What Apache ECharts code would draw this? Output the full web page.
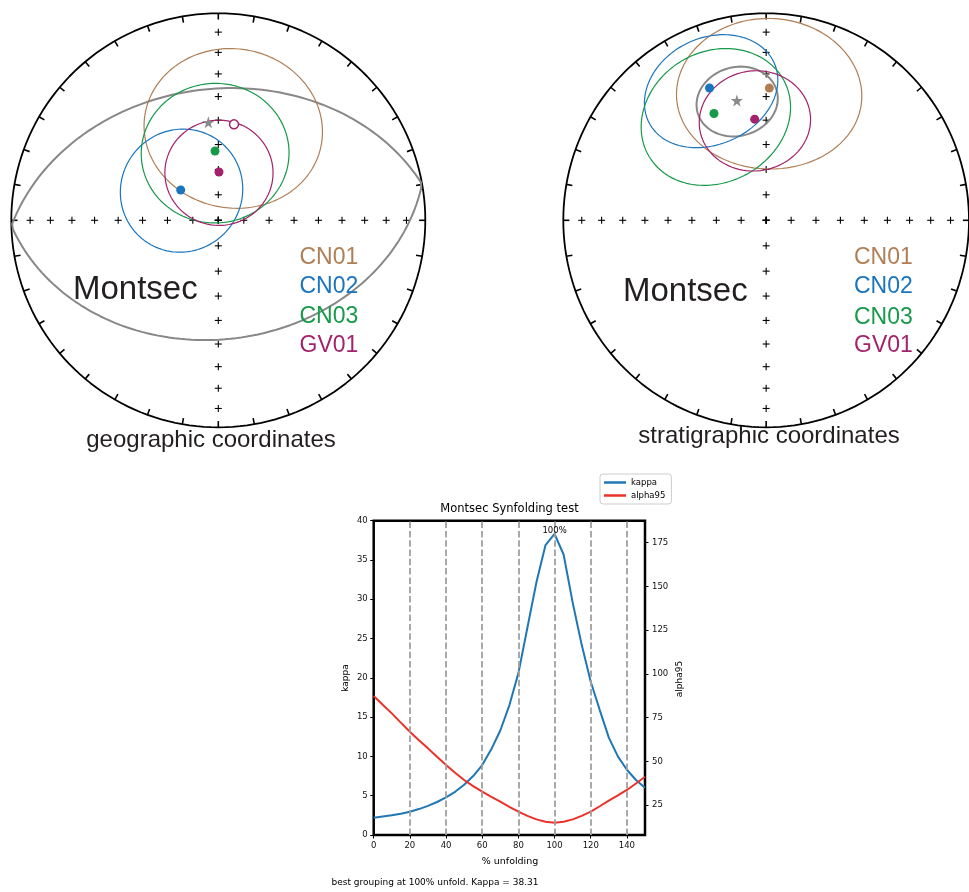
<!DOCTYPE html>
<html>
<head>
<meta charset="utf-8">
<script src="https://cdn.jsdelivr.net/npm/echarts@6/dist/echarts.min.js"></script>
<style>
html, body { margin: 0; padding: 0; background: #fff; }
#main { width: 969px; height: 892px; }
</style>
</head>
<body>
<div id="main"></div>
<script>
var siteNames = ['CN01', 'CN02', 'CN03', 'GV01'];
var siteColors = ['#b07e55', '#1a75bf', '#17994a', '#a3226b'];
var geoDec = [9.3, 308.9, 357.3, 0.8];
var geoInc = [-51.2, 71.0, 62.6, 71.0];   // negative = upper hemisphere
var stratDec = [1.4, 336.4, 333.5, 353.4];
var stratInc = [36.3, 30.9, 41.9, 49.3];
var siteA95 = [33.5, 24.2, 28.4, 21.0];
var geoMean = [354.2, 50.7];
var stratMean = [346.0, 40.1];
var upperColor = '#a3226b';

// net grid: inclination crosses and azimuth ticks
var crossIncs = [10, 20, 30, 40, 50, 60, 70, 80, 90];
var crossAz = [0, 90, 180, 270];
var tickAz = [0, 10, 20, 30, 40, 50, 60, 70, 80, 90, 100, 110, 120, 130, 140, 150, 160, 170,
  180, 190, 200, 210, 220, 230, 240, 250, 260, 270, 280, 290, 300, 310, 320, 330, 340, 350];

// synfolding test
var unfold = [0, 5, 10, 15, 20, 25, 30, 35, 40, 45, 50, 55, 60, 65, 70, 75, 80, 85, 90, 95,
  100, 105, 110, 115, 120, 125, 130, 135, 140, 145, 150];
var kappa = [2.2, 2.35, 2.5, 2.7, 2.95, 3.3, 3.7, 4.2, 4.8, 5.5, 6.4, 7.5, 8.9, 10.9, 13.3, 16.5,
  20.6, 26.4, 32.2, 36.9, 38.31, 35.7, 29.6, 24.2, 19.5, 15.9, 12.4, 10.0, 8.3, 7.0, 6.0];
var alpha95 = [87.3, 82.3, 77.4, 72.1, 66.9, 62.0, 57.4, 52.6, 47.9, 43.5, 39.3, 35.8, 32.6, 29.6,
  26.9, 24.0, 21.2, 18.8, 16.8, 15.4, 14.9, 15.4, 16.8, 18.8, 21.2, 24.3, 27.5, 30.5, 33.6, 37.3, 41.2];
var xTicks = [0, 20, 40, 60, 80, 100, 120, 140];
var dashX = [20, 40, 60, 80, 100, 120, 140];
var rightTicks = [25, 50, 75, 100, 125, 150, 175];

var DEG = Math.PI / 180;
var STAR = 'path://M50,0L61.8,35.1L98.9,35.4L69.1,57.5L80.3,92.9L50,71.3L19.7,92.9L30.9,57.5L1.1,35.4L38.2,35.1Z';

// equal-area (Schmidt) projection, unit primitive
function proj(dec, inc) {
  var r = Math.sqrt(1 - Math.sin(Math.abs(inc) * DEG));
  return [r * Math.sin(dec * DEG), r * Math.cos(dec * DEG)];
}

// cone of confidence around a direction, folded into the lower hemisphere
function smallCircle(dec, inc, a) {
  var D = dec * DEG, I = inc * DEG, A = a * DEG;
  var c = [Math.cos(I) * Math.cos(D), Math.cos(I) * Math.sin(D), Math.sin(I)];
  var u = [Math.sin(I) * Math.cos(D), Math.sin(I) * Math.sin(D), -Math.cos(I)];
  var v = [-Math.sin(D), Math.cos(D), 0];
  var out = [];
  for (var t = 0; t <= 360; t += 2) {
    var ct = Math.cos(t * DEG), st = Math.sin(t * DEG);
    var p = [0, 1, 2].map(function (k) {
      return Math.cos(A) * c[k] + Math.sin(A) * (ct * u[k] + st * v[k]);
    });
    var pi = Math.asin(Math.max(-1, Math.min(1, p[2]))) / DEG;
    var pd = Math.atan2(p[1], p[0]) / DEG;
    out.push(proj(pd, pi));
  }
  return out;
}

var chart = echarts.init(document.getElementById('main'));

var nets = [
  { dec: geoDec, inc: geoInc, mean: geoMean, a95: alpha95[0] },
  { dec: stratDec, inc: stratInc, mean: stratMean, a95: alpha95[20] }
];

var series = [];
var primitive = [];
for (var d = 0; d <= 360; d += 2) primitive.push(proj(d, 0));
var crossPts = [];
crossAz.forEach(function (az) {
  crossIncs.forEach(function (i) { crossPts.push(proj(az, i)); });
});

nets.forEach(function (net, k) {
  var ax = { xAxisIndex: k, yAxisIndex: k };
  series.push(Object.assign({
    type: 'line', data: primitive, symbol: 'none', clip: false, silent: true, z: 5,
    lineStyle: { color: '#000', width: 1.8 }
  }, ax));
  series.push(Object.assign({
    type: 'custom', silent: true, z: 5,
    data: tickAz.map(function (a) { return proj(a, 0); }),
    renderItem: function (params, api) {
      var x = api.value(0), y = api.value(1);
      var p1 = api.coord([x, y]), p2 = api.coord([x * 0.97, y * 0.97]);
      return { type: 'line', shape: { x1: p1[0], y1: p1[1], x2: p2[0], y2: p2[1] },
        style: { stroke: '#000', lineWidth: 1.6 } };
    }
  }, ax));
  series.push(Object.assign({
    type: 'custom', silent: true, z: 4,
    data: crossPts,
    renderItem: function (params, api) {
      var p = api.coord([api.value(0), api.value(1)]);
      var s = 3.5, st = { stroke: '#000', lineWidth: 1.1 };
      return { type: 'group', children: [
        { type: 'line', shape: { x1: p[0] - s, y1: p[1], x2: p[0] + s, y2: p[1] }, style: st },
        { type: 'line', shape: { x1: p[0], y1: p[1] - s, x2: p[0], y2: p[1] + s }, style: st }
      ] };
    }
  }, ax));
  series.push(Object.assign({
    type: 'line', data: smallCircle(net.mean[0], net.mean[1], net.a95), symbol: 'none',
    clip: false, silent: true, z: 6, lineStyle: { color: '#888888', width: 2 }
  }, ax));
  siteNames.forEach(function (nm, i) {
    series.push(Object.assign({
      type: 'line', data: smallCircle(net.dec[i], net.inc[i], siteA95[i]), symbol: 'none',
      clip: false, silent: true, z: 7, lineStyle: { color: siteColors[i], width: 1.2 }
    }, ax));
  });
  series.push(Object.assign({
    type: 'scatter', silent: true, z: 10, symbolSize: 9,
    data: siteNames.map(function (nm, i) {
      var up = net.inc[i] < 0;
      return {
        value: proj(net.dec[i], net.inc[i]),
        itemStyle: up ? { color: '#fff', borderColor: upperColor, borderWidth: 1.5, opacity: 1 }
                      : { color: siteColors[i], opacity: 1 }
      };
    })
  }, ax));
  series.push(Object.assign({
    type: 'scatter', silent: true, z: 10, symbol: STAR, symbolSize: 12,
    itemStyle: { color: '#8a8a8a', opacity: 1 },
    data: [proj(net.mean[0], net.mean[1])]
  }, ax));
});

var FONT = 'DejaVu Sans';
series.push({
  name: 'kappa', type: 'line', xAxisIndex: 2, yAxisIndex: 2, symbol: 'none', z: 4,
  data: unfold.map(function (u, i) { return [u, kappa[i]]; }),
  lineStyle: { color: '#1f77b4', width: 2 }, itemStyle: { color: '#1f77b4' },
  markLine: {
    silent: true, symbol: ['none', 'none'], label: { show: false },
    lineStyle: { color: '#a0a0a0', width: 1.8, type: [6.5, 2.8] },
    data: dashX.map(function (x) { return { xAxis: x }; })
  },
  markPoint: {
    silent: true,
    data: [{ coord: [100, 38.31], symbol: 'circle', symbolSize: 0.1,
      label: { show: true, position: 'top', distance: -1, formatter: '100%',
        fontFamily: FONT, fontSize: 8.5, color: '#000' } }]
  }
});
series.push({
  name: 'alpha95', type: 'line', xAxisIndex: 2, yAxisIndex: 3, symbol: 'none', z: 4,
  data: unfold.map(function (u, i) { return [u, alpha95[i]]; }),
  lineStyle: { color: '#eb3228', width: 2 }, itemStyle: { color: '#eb3228' }
});

function hiddenAxis(i) {
  return { gridIndex: i, type: 'value', min: -1, max: 1, show: false };
}
var labelStyle = { fontFamily: FONT, fontSize: 8.5, color: '#111' };
var tickStyle = { show: true, length: 3.5, lineStyle: { color: '#000', width: 1 } };

var texts = [];
function txt(s, x, y, size, color, align, family, rot) {
  texts.push({
    type: 'text', x: x, y: y, rotation: rot || 0, silent: true, z: 20,
    style: { text: s, fill: color, font: size + 'px "' + family + '"',
      textAlign: align, textVerticalAlign: 'middle' }
  });
}
var SANS = 'Liberation Sans', DARK = '#231f20';
txt('Montsec', 73, 290.3, 33, DARK, 'left', SANS);
txt('Montsec', 623, 291.9, 33, DARK, 'left', SANS);
var labY = [[257.3, 286.7, 316.7, 345.7], [257.3, 286.7, 317.3, 345.7]];
siteNames.forEach(function (nm, i) {
  txt(nm, 299.5, labY[0][i], 23, siteColors[i], 'left', SANS);
  txt(nm, 854, labY[1][i], 23, siteColors[i], 'left', SANS);
});
txt('geographic coordinates', 211, 440.7, 24, DARK, 'center', SANS);
txt('stratigraphic coordinates', 769, 436.4, 24, DARK, 'center', SANS);
txt('Montsec Synfolding test', 509.5, 509.5, 11.5, '#000', 'center', FONT);
txt('% unfolding', 510, 861.5, 9.5, '#000', 'center', FONT);
txt('kappa', 346, 678, 9, '#000', 'center', FONT, Math.PI / 2);
txt('alpha95', 680, 679, 9, '#000', 'center', FONT, Math.PI / 2);
txt('best grouping at 100% unfold. Kappa = 38.31', 331.5, 882.7, 9, '#000', 'left', FONT);

chart.setOption({
  animation: false,
  backgroundColor: '#fff',
  grid: [
    { left: 11.3, top: 13.3, width: 414, height: 414 },
    { left: 563.3, top: 13.3, width: 414, height: 414 },
    { left: 373.7, top: 520.7, width: 271.3, height: 314.3, show: true,
      borderColor: '#000', borderWidth: 2.5, backgroundColor: 'transparent' }
  ],
  legend: {
    data: ['kappa', 'alpha95'], orient: 'vertical', left: 600, top: 474,
    icon: 'rect', itemWidth: 22, itemHeight: 2.5, itemGap: 4, padding: [4, 6, 4, 4],
    borderColor: '#cccccc', borderWidth: 1, borderRadius: 3, backgroundColor: '#fff',
    textStyle: { fontFamily: FONT, fontSize: 8.5, color: '#000' }
  },
  xAxis: [
    hiddenAxis(0), hiddenAxis(1),
    { gridIndex: 2, type: 'value', min: 0, max: 150,
      axisLine: { show: false }, splitLine: { show: false },
      axisTick: Object.assign({ customValues: xTicks }, tickStyle),
      axisLabel: Object.assign({ customValues: xTicks, margin: 6 }, labelStyle) }
  ],
  yAxis: [
    hiddenAxis(0), hiddenAxis(1),
    { gridIndex: 2, type: 'value', min: 0, max: 40, interval: 5,
      axisLine: { show: false }, splitLine: { show: false },
      axisTick: tickStyle,
      axisLabel: Object.assign({ margin: 6 }, labelStyle) },
    { gridIndex: 2, type: 'value', position: 'right', min: 7.85, max: 187.6,
      axisLine: { show: false }, splitLine: { show: false },
      axisTick: Object.assign({ customValues: rightTicks }, tickStyle),
      axisLabel: Object.assign({ customValues: rightTicks, margin: 7 }, labelStyle) }
  ],
  graphic: texts,
  series: series
});
</script>
</body>
</html>
